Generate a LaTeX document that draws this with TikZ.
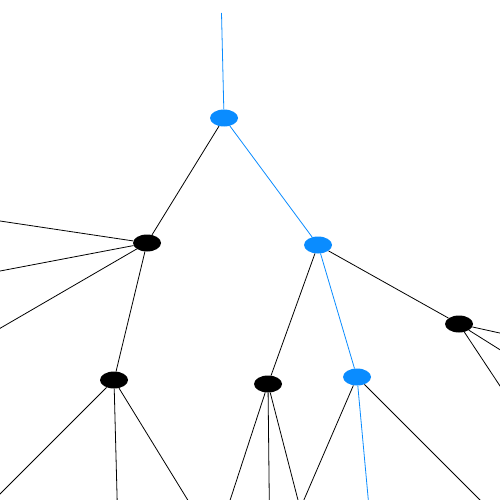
\documentclass[tikz,border=0pt]{standalone}
\usetikzlibrary{shapes.geometric}
\definecolor{nodeblue}{RGB}{10,140,255}
\tikzset{
  bnode/.style={ellipse, fill=black, draw=none, minimum width=28pt, minimum height=17pt, inner sep=0pt},
  unode/.style={ellipse, fill=nodeblue, draw=none, minimum width=28pt, minimum height=17pt, inner sep=0pt},
  edge/.style={draw=black, line width=0.8pt},
  bedge/.style={draw=nodeblue, line width=0.8pt},
}
\begin{document}
\begin{tikzpicture}[x=1pt,y=-1pt]
\useasboundingbox (0,0) rectangle (500,500);
\clip (0,0) rectangle (500,500);
\fill[white] (0,0) rectangle (500,500);
% nodes
\node[unode] (A) at (224,118) {};
\node[bnode] (B) at (147,243) {};
\node[unode] (C) at (318,245) {};
\node[bnode] (D) at (114,380) {};
\node[bnode] (E) at (268,384) {};
\node[unode] (F) at (357,377) {};
\node[bnode] (G) at (459,324) {};
% free ends
\coordinate (top) at (221.5,13);
\coordinate (b1) at (-2,220.7);
\coordinate (b2) at (-2,271.4);
\coordinate (b3) at (-2,329.5);
\coordinate (d1) at (-8,502);
\coordinate (d2) at (117.2,502);
\coordinate (d3) at (189,502);
\coordinate (e1) at (229.5,502);
\coordinate (e2) at (269.3,502);
\coordinate (e3) at (298.5,502);
\coordinate (f1) at (303,502);
\coordinate (f2) at (368.5,502);
\coordinate (f3) at (482,502);
\coordinate (g1) at (502,333.5);
\coordinate (g2) at (502,351);
\coordinate (g3) at (504,392);
% edges
\draw[bedge] (top) -- (A);
\draw[edge] (A) -- (B);
\draw[bedge] (A) -- (C);
\draw[edge] (B) -- (b1);
\draw[edge] (B) -- (b2);
\draw[edge] (B) -- (b3);
\draw[edge] (B) -- (D);
\draw[edge] (C) -- (E);
\draw[bedge] (C) -- (F);
\draw[edge] (C) -- (G);
\draw[edge] (D) -- (d1);
\draw[edge] (D) -- (d2);
\draw[edge] (D) -- (d3);
\draw[edge] (E) -- (e1);
\draw[edge] (E) -- (e2);
\draw[edge] (E) -- (e3);
\draw[edge] (F) -- (f1);
\draw[bedge] (F) -- (f2);
\draw[edge] (F) -- (f3);
\draw[edge] (G) -- (g1);
\draw[edge] (G) -- (g2);
\draw[edge] (G) -- (g3);
\end{tikzpicture}
\end{document}
